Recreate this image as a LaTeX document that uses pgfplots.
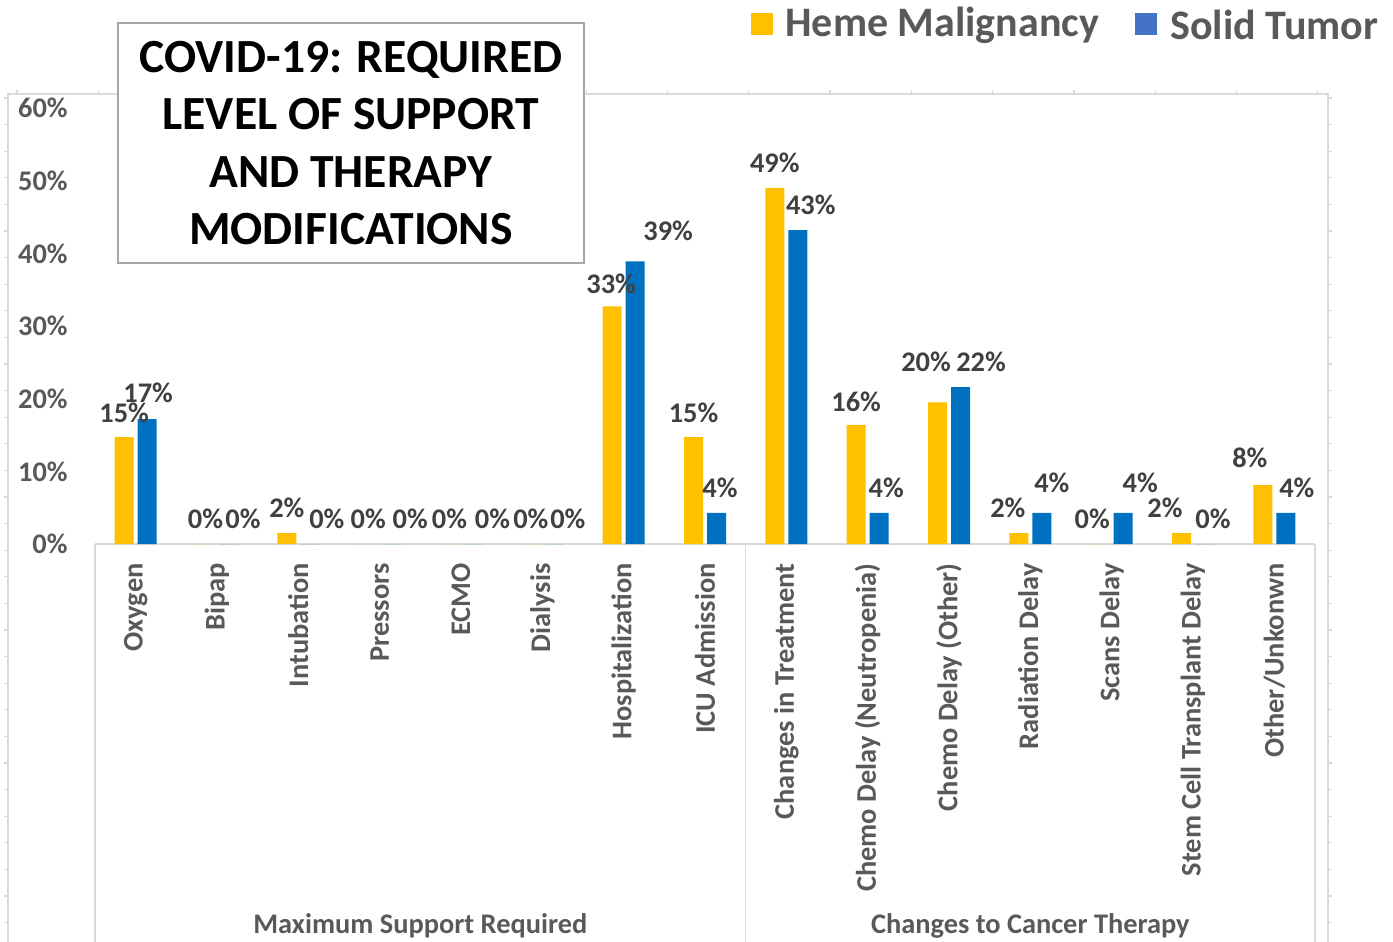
\documentclass[border=0pt]{standalone}
\usepackage{pgfplots}
\pgfplotsset{compat=1.18}
\usepackage{pgfplotstable}
\usepackage{fontspec}
\setmainfont{Carlito}
\definecolor{heme}{HTML}{FFC000}
\definecolor{solid}{HTML}{0070C0}
\definecolor{solidleg}{HTML}{4472C4}
\definecolor{txt}{HTML}{595959}
\definecolor{lblc}{HTML}{404040}
\definecolor{framec}{HTML}{D9D9D9}
\newcommand\lbl{\fontsize{14.2}{17}\selectfont\bfseries}

\pgfplotstableread{
x y lab dx dy
0 14.7 15 0 24
1 0 0 0 25
2 1.5 2 0 25
3 0 0 0 25
4 0 0 0 25
5 0 0 0 25
6 32.7 33 -1 23
7 14.7 15 0 24
8 49.0 49 0 25
9 16.4 16 0 23
10 19.5 20 -11.5 40
11 1.5 2 -11 25
12 0 0 -8 25
13 1.5 2 -16.5 25
14 8.1 8 -13 27
}\hemetab

\pgfplotstableread{
x y lab dx dy
0 17.2 17 1 26
1 0 0 14.5 25
2 0 0 17 25
3 0 0 19 25
4 0 0 20 25
5 0 0 14 25
6 38.9 39 33 31
7 4.3 4 3.5 25
8 43.2 43 13 25
9 4.3 4 7 25
10 21.6 22 20.5 25
11 4.3 4 10 30
12 4.3 4 17 30
13 0 0 8.5 25
14 4.3 4 11 25
}\solidtab

\begin{document}
\begin{tikzpicture}
\path[use as bounding box] (0,0) rectangle (696.5pt,-471pt);
% outer frame
\draw[framec, line width=0.8pt] (4pt,-471pt) -- (4pt,-47pt) -- (664pt,-47pt) -- (664pt,-471pt);
\foreach \i in {0,...,31} {
  \draw[framec, line width=0.6pt] (4pt,{-49pt-13.3pt*\i}) -- ++(-2pt,0);
  \draw[framec, line width=0.6pt] (664pt,{-49pt-13.3pt*\i}) -- ++(2pt,0);
}
\foreach \i in {0,...,16} {
  \draw[framec, line width=0.6pt] ({8.5pt+40.65pt*\i},-47pt) -- ++(0,2pt);
}
\begin{axis}[
  at={(47.5pt,-272pt)}, anchor=south west,
  scale only axis, width=610pt, height=218pt,
  xmin=-0.5, xmax=14.5, ymin=0, ymax=60,
  ybar=2pt, bar width=9.5pt,
  axis lines*=left,
  x axis line style={draw=framec, line width=0.8pt},
  y axis line style={draw=none},
  major tick length=0pt,
  clip=false,
  /pgf/number format/assume math mode=true,
  ytick={0,10,...,60},
  yticklabel={\pgfmathprintnumber{\tick}\%},
  yticklabel style={font=\lbl, text=txt, anchor=east, inner sep=0pt},
  yticklabel shift=13.5pt,
  xtick={0,...,14},
  xticklabels={Oxygen, Bipap, Intubation, Pressors, ECMO, Dialysis, Hospitalization, ICU Admission, Changes in Treatment, Chemo Delay (Neutropenia), Chemo Delay (Other), Radiation Delay, Scans Delay, Stem Cell Transplant Delay, Other/Unkonwn},
  xticklabel style={font=\lbl, text=txt, rotate=90, anchor=east, inner sep=0pt},
  xticklabel shift=9.5pt,
  point meta=explicit,
  nodes near coords={\pgfmathprintnumber{\pgfplotspointmeta}\%},
  nodes near coords style={font=\lbl, text=lblc, anchor=center, inner sep=0pt, xshift=\dx*0.5pt, yshift=\dy*0.5pt},
]
\addplot[fill=heme, draw=none,
  visualization depends on={\thisrow{dx} \as \dx},
  visualization depends on={\thisrow{dy} \as \dy}]
  table[x=x, y=y, meta=lab] {\hemetab};
\addplot[fill=solid, draw=none,
  visualization depends on={\thisrow{dx} \as \dx},
  visualization depends on={\thisrow{dy} \as \dy}]
  table[x=x, y=y, meta=lab] {\solidtab};
\draw[framec, line width=0.8pt] (axis cs:-0.5,0) -- ++(0pt,-199pt);
\draw[framec, line width=0.8pt] (axis cs:7.5,0) -- ++(0pt,-199pt);
\draw[framec, line width=0.8pt] (axis cs:14.5,0) -- ++(0pt,-199pt);
\node[font=\lbl, text=txt, inner sep=0pt] at (axis cs:3.5,0) [yshift=-191pt] {Maximum Support Required};
\node[font=\lbl, text=txt, inner sep=0pt] at (axis cs:11,0) [yshift=-191pt] {Changes to Cancer Therapy};
\end{axis}
% title box
\node[draw=black!35, fill=white, line width=1.2pt, minimum width=233pt, minimum height=120pt, align=center, inner sep=0pt, font=\fontsize{23.8}{28.75}\selectfont\bfseries] at (175.5pt,-71.5pt) {COVID-19: REQUIRED\\LEVEL OF SUPPORT\\AND THERAPY\\MODIFICATIONS};
% legend
\fill[heme] (375.5pt,-6.5pt) rectangle (386.5pt,-17.5pt);
\node[anchor=west, inner sep=0pt, text=txt, font=\fontsize{21}{24}\selectfont\bfseries] at (392.5pt,-12.5pt) {Heme Malignancy};
\fill[solidleg] (567.5pt,-6.5pt) rectangle (578.5pt,-17.5pt);
\node[anchor=west, inner sep=0pt, text=txt, font=\fontsize{21}{24}\selectfont\bfseries] at (585pt,-12.5pt) {Solid Tumor};
\end{tikzpicture}
\end{document}
